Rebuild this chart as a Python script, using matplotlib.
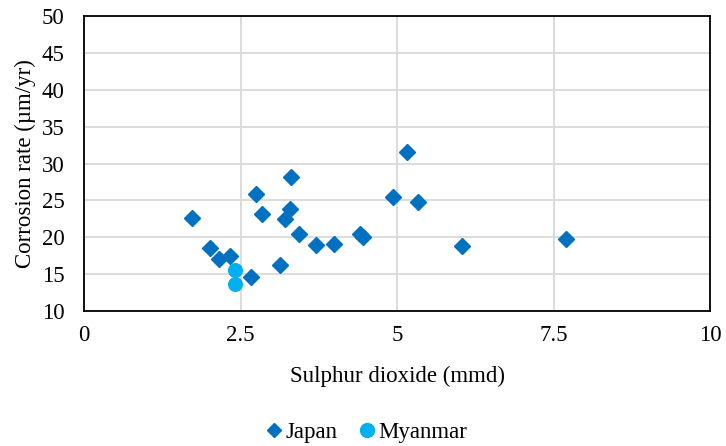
import matplotlib
matplotlib.use("Agg")
import matplotlib.pyplot as plt
from matplotlib.lines import Line2D

plt.rcParams['font.family'] = ['Liberation Serif', 'DejaVu Serif']

# Sulphur dioxide deposition (mmd) vs corrosion rate (µm/yr)
japan_so2 = [1.73, 2.01, 2.16, 2.33, 2.67, 2.75, 2.84, 3.13, 3.21, 3.29, 3.30,
             3.43, 3.70, 4.00, 4.41, 4.46, 4.93, 5.16, 5.34, 6.04, 7.70]
japan_rate = [22.6, 18.6, 17.1, 17.4, 14.6, 25.9, 23.2, 16.2, 22.5, 23.8, 28.2,
              20.4, 18.9, 19.1, 20.4, 20.1, 25.5, 31.5, 24.8, 18.8, 19.8]
myanmar_so2 = [2.41, 2.41]
myanmar_rate = [15.5, 13.7]

x_ticks = [0, 2.5, 5, 7.5, 10]
x_tick_labels = ["0", "2.5", "5", "7.5", "10"]
y_ticks = [10, 15, 20, 25, 30, 35, 40, 45, 50]

FS = 16.5

fig = plt.figure(figsize=(7.26, 4.46), dpi=100)
ax = fig.add_axes([84 / 726, 1 - 311 / 446, (710 - 84) / 726, (311 - 16) / 446])

ax.plot(japan_so2, japan_rate, linestyle='none', marker='D', ms=8.6,
        color='#0070C0', label='Japan', zorder=3)
ax.plot(myanmar_so2, myanmar_rate, linestyle='none', marker='o', ms=9.8,
        color='#00B0F0', label='Myanmar', zorder=3)

ax.set_xlim(0, 10)
ax.set_ylim(10, 50)
ax.set_xticks(x_ticks)
ax.set_xticklabels(x_tick_labels)
ax.set_yticks(y_ticks)
ax.grid(True, color='#D9D9D9', linewidth=1.3, zorder=0)
ax.set_axisbelow(True)
ax.tick_params(length=0, labelsize=FS, colors='black')
ax.tick_params(axis='x', pad=10)
ax.tick_params(axis='y', pad=14)
for s in ax.spines.values():
    s.set_color('black')
    s.set_linewidth(1.3)

ax.set_xlabel('Sulphur dioxide (mmd)', fontsize=FS, labelpad=14)
ax.set_ylabel('Corrosion rate (µm/yr)', fontsize=FS, labelpad=4)

handles = [Line2D([], [], linestyle='none', marker='D', ms=7, color='#0070C0'),
           Line2D([], [], linestyle='none', marker='o', ms=10, color='#00B0F0')]
fig.legend(handles, ['Japan', 'Myanmar'], loc='center', bbox_to_anchor=(367 / 726, 1 - 432 / 446),
           ncol=2, frameon=False, fontsize=FS, handlelength=0.6, handletextpad=0.2,
           columnspacing=1.0, borderpad=0)

fig.savefig('out.png', dpi=100)
